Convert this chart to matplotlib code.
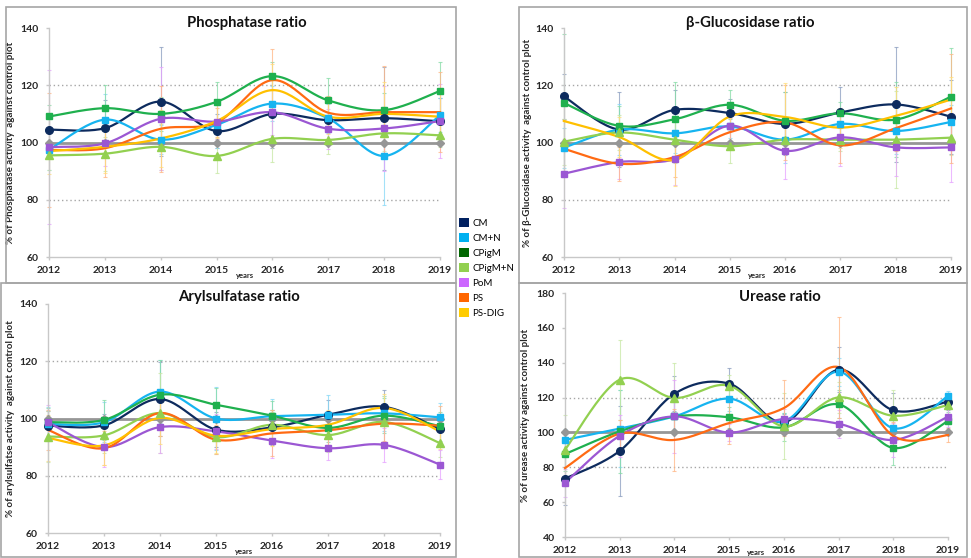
import numpy as np
import matplotlib
matplotlib.use("Agg")
import matplotlib.pyplot as plt
from matplotlib.patches import Rectangle, Patch

plt.rcParams['font.family'] = ['Lato', 'DejaVu Sans']

years = [2012, 2013, 2014, 2015, 2016, 2017, 2018, 2019]
treatments = ['CM', 'CM+N', 'CPigM', 'CPigM+N', 'PoM', 'PS', 'PS-DIG']
control = [100] * 8

# mean ratios (% of control plot)
phosphatase = {
    'CM':      [104.5, 105.0, 114.3, 104.0, 110.0, 107.8, 108.5, 107.4],
    'CM+N':    [97.5, 108.0, 101.0, 106.2, 113.6, 108.4, 95.3, 109.6],
    'CPigM':   [109.1, 112.0, 110.0, 114.2, 123.2, 114.7, 111.3, 118.0],
    'CPigM+N': [95.5, 96.1, 98.5, 95.3, 101.3, 100.9, 103.2, 102.5],
    'PoM':     [98.4, 99.7, 108.3, 107.3, 110.6, 104.8, 104.9, 107.5],
    'PS':      [97.4, 98.0, 104.8, 107.0, 121.8, 110.4, 110.6, 110.6],
    'PS-DIG':  [97.0, 98.5, 101.4, 107.5, 118.3, 109.0, 110.0, 109.0],
}
phosphatase_err = {
    'CM':      [5, 10, 19, 6, 12, 8, 18, 8],
    'CM+N':    [7, 9, 5, 8, 6, 5, 17, 6],
    'CPigM':   [4, 8, 6, 7, 5, 8, 6, 10],
    'CPigM+N': [5, 6, 8, 6, 8, 5, 6, 4],
    'PoM':     [27, 8, 18, 6, 8, 7, 15, 13],
    'PS':      [20, 10, 15, 5, 11, 6, 16, 14],
    'PS-DIG':  [8, 9, 10, 6, 9, 6, 11, 10],
}

glucosidase = {
    'CM':      [116.1, 104.5, 111.4, 110.3, 106.5, 110.5, 113.3, 109.0],
    'CM+N':    [98.2, 104.5, 103.2, 105.6, 101.0, 106.5, 104.0, 107.2],
    'CPigM':   [113.8, 105.8, 108.1, 113.2, 107.6, 110.2, 108.0, 116.0],
    'CPigM+N': [100.3, 103.5, 101.0, 98.7, 101.0, 101.0, 101.0, 101.7],
    'PoM':     [89.1, 93.2, 94.2, 105.9, 97.1, 101.8, 98.3, 98.3],
    'PS':      [97.8, 92.6, 94.9, 103.6, 107.0, 99.0, 105.0, 111.9],
    'PS-DIG':  [107.5, 101.9, 93.9, 109.1, 108.9, 105.2, 109.3, 115.0],
}
glucosidase_err = {
    'CM':      [8, 13, 7, 5, 11, 9, 20, 13],
    'CM+N':    [7, 9, 7, 4, 8, 4, 8, 6],
    'CPigM':   [24, 7, 13, 5, 10, 4, 13, 17],
    'CPigM+N': [8, 6, 8, 6, 5, 4, 17, 6],
    'PoM':     [12, 6, 9, 6, 10, 10, 10, 12],
    'PS':      [10, 6, 7, 5, 13, 6, 8, 19],
    'PS-DIG':  [8, 7, 9, 5, 12, 7, 10, 8],
}

arylsulfatase = {
    'CM':      [97.5, 97.6, 106.8, 96.1, 96.9, 101.3, 104.1, 96.3],
    'CM+N':    [98.1, 98.7, 109.4, 100.0, 100.8, 101.3, 101.8, 100.4],
    'CPigM':   [98.7, 99.5, 108.3, 104.8, 101.0, 96.7, 101.0, 97.3],
    'CPigM+N': [93.7, 94.1, 101.9, 93.5, 97.8, 94.2, 98.8, 91.4],
    'PoM':     [98.7, 90.0, 97.0, 95.5, 92.3, 89.6, 90.8, 83.9],
    'PS':      [96.0, 89.6, 101.9, 92.6, 94.8, 95.9, 98.2, 97.5],
    'PS-DIG':  [93.2, 90.6, 100.2, 94.0, 96.3, 97.8, 103.7, 95.5],
}
arylsulfatase_err = {
    'CM':      [5, 4, 13, 6, 6, 5, 6, 5],
    'CM+N':    [6, 7, 11, 11, 6, 7, 6, 5],
    'CPigM':   [5, 7, 12, 6, 5, 5, 6, 5],
    'CPigM+N': [9, 6, 14, 6, 5, 6, 9, 5],
    'PoM':     [6, 7, 9, 6, 6, 4, 6, 5],
    'PS':      [7, 6, 8, 5, 8, 6, 6, 7],
    'PS-DIG':  [8, 7, 9, 6, 6, 5, 5, 6],
}

urease = {
    'CM':      [73.5, 89.4, 122.2, 128.0, 105.8, 136.0, 112.7, 117.7],
    'CM+N':    [95.7, 102.2, 109.2, 119.4, 106.4, 134.9, 102.4, 120.9],
    'CPigM':   [87.6, 100.6, 109.2, 108.7, 102.9, 116.1, 91.1, 106.6],
    'CPigM+N': [90.1, 130.3, 119.8, 126.8, 103.5, 120.1, 109.6, 115.7],
    'PoM':     [71.2, 98.1, 109.2, 99.9, 107.7, 105.0, 95.7, 109.0],
    'PS':      [79.6, 99.3, 95.7, 105.4, 114.0, 137.5, 98.0, 98.5],
}
urease_err = {
    'CM':      [15, 26, 10, 9, 5, 13, 10, 5],
    'CM+N':    [6, 22, 8, 7, 5, 8, 10, 3],
    'CPigM':   [10, 24, 8, 6, 8, 8, 10, 5],
    'CPigM+N': [20, 23, 20, 6, 19, 9, 15, 5],
    'PoM':     [8, 12, 21, 5, 6, 8, 10, 6],
    'PS':      [10, 8, 18, 12, 16, 29, 8, 4],
}

line_colors = {'CM': '#0d2b5e', 'CM+N': '#16b4f0', 'CPigM': '#1fb04e',
               'CPigM+N': '#92d050', 'PoM': '#9b57d3', 'PS': '#ff6a13',
               'PS-DIG': '#ffc000'}
err_colors = {'CM': '#8a9cbf', 'CM+N': '#86d8f6', 'CPigM': '#86dca6',
              'CPigM+N': '#c8e8a4', 'PoM': '#e6a3ff', 'PS': '#ffb684',
              'PS-DIG': '#ffde7c'}
legend_colors = {'CM': '#002060', 'CM+N': '#00b0f0', 'CPigM': '#006600',
                 'CPigM+N': '#92d050', 'PoM': '#cc66ff', 'PS': '#ff6600',
                 'PS-DIG': '#ffcc00'}
markers = {'CM': 'o', 'CM+N': 's', 'CPigM': 's', 'CPigM+N': '^',
           'PoM': 's', 'PS': None, 'PS-DIG': None}
marker_sizes = {'o': 5.5, 's': 5, '^': 5.5}


def smooth(x, y, n=24):
    # Excel style smoothed line: cubic bezier through every point
    x = np.asarray(x, float)
    y = np.asarray(y, float)
    xs, ys = [], []
    t = np.linspace(0, 1, n)[:, None]
    last = len(x) - 1
    for i in range(last):
        a = max(i - 1, 0)
        b = min(i + 2, last)
        p0 = np.array([x[i], y[i]])
        p3 = np.array([x[i + 1], y[i + 1]])
        p1 = p0 + (p3 - np.array([x[a], y[a]])) / 6
        p2 = p3 - (np.array([x[b], y[b]]) - p0) / 6
        c = ((1 - t) ** 3) * p0 + 3 * ((1 - t) ** 2) * t * p1 + 3 * (1 - t) * t ** 2 * p2 + t ** 3 * p3
        xs.extend(c[:, 0])
        ys.extend(c[:, 1])
    return xs, ys


def draw_panel(ax, data, errs, ylabel, ylim, yticks, label_x, years_off=-15):
    for name in data:
        ax.errorbar(years, data[name], yerr=errs[name], fmt='none',
                    ecolor=err_colors[name], elinewidth=0.8, capsize=1.5,
                    capthick=0.8, alpha=0.75, zorder=2, clip_on=False)
    for g in (80, 120):
        ax.axhline(g, color='#a6a6a6', ls=(0, (1, 2)), lw=1.0, zorder=1)
    ax.plot(years, control, color='#969696', lw=2, marker='D', ms=4,
            zorder=3, clip_on=False)
    for name in data:
        sx, sy = smooth(years, data[name])
        ax.plot(sx, sy, color=line_colors[name], lw=1.6, zorder=4, clip_on=False)
        m = markers[name]
        if m:
            ax.plot(years, data[name], ls='none', marker=m, ms=marker_sizes[m],
                    color=line_colors[name], zorder=5, clip_on=False)
    ax.set_xlim(years[0], years[-1])
    ax.set_ylim(*ylim)
    ax.set_xticks(years)
    ax.set_yticks(yticks)
    for s in ('top', 'right'):
        ax.spines[s].set_visible(False)
    for s in ('left', 'bottom'):
        ax.spines[s].set_color('#c8c8c8')
        ax.spines[s].set_linewidth(1.0)
    ax.tick_params(colors='#c8c8c8', labelcolor='#262626', labelsize=7.5,
                   length=2.5, width=1.0)
    ax.tick_params(axis='x', pad=4)
    ax.tick_params(axis='y', pad=5)
    for lab in ax.get_xticklabels() + ax.get_yticklabels():
        lab.set_fontweight('bold')
    ax.set_ylabel(ylabel, fontsize=7, fontweight='bold', color='#262626')
    ax.yaxis.set_label_coords(label_x, 0.5)
    ax.annotate('years', xy=(0.5, 0), xycoords='axes fraction',
                xytext=(0, years_off), textcoords='offset points', ha='center',
                va='baseline', fontsize=5.5, fontweight='bold', color='#262626')


fig = plt.figure(figsize=(9.71, 5.58), dpi=100)

# panel frames
for x0, y0, x1, y1 in [(6, 7, 456, 283), (519, 7, 967, 283),
                       (1, 283, 456, 557), (519, 283, 967, 557)]:
    fig.patches.append(Rectangle((x0 / 971, 1 - y1 / 558), (x1 - x0) / 971,
                                 (y1 - y0) / 558, transform=fig.transFigure,
                                 fill=False, edgecolor='#a6a6a6', lw=1.2))

ax1 = fig.add_axes([0.0505, 0.5394, 0.4027, 0.4104])
ax2 = fig.add_axes([0.5808, 0.5394, 0.3986, 0.4104])
ax3 = fig.add_axes([0.0494, 0.0448, 0.4037, 0.4104])
ax4 = fig.add_axes([0.5819, 0.0376, 0.3944, 0.4373])

draw_panel(ax1, phosphatase, phosphatase_err,
           '% of Phosphatase activity  against control plot', (60, 140),
           [60, 80, 100, 120, 140], -0.087)
draw_panel(ax2, glucosidase, glucosidase_err,
           '% of β-Glucosidase activity  against control plot', (60, 140),
           [60, 80, 100, 120, 140], -0.083)
draw_panel(ax3, arylsulfatase, arylsulfatase_err,
           '% of arylsulfatse activity  against control plot', (60, 140),
           [60, 80, 100, 120, 140], -0.084)
draw_panel(ax4, urease, urease_err,
           '% of urease activity against control plot', (40, 180),
           [40, 60, 80, 100, 120, 140, 160, 180], -0.091, years_off=-13)

# panel titles (centre x, baseline y in pixels)
for text, cx, by in [('Phosphatase ratio', 247, 27),
                     ('β-Glucosidase ratio', 750, 27),
                     ('Arylsulfatase ratio', 239, 301),
                     ('Urease ratio', 780, 301)]:
    fig.text(cx / 971, 1 - by / 558, text, ha='center', va='baseline',
             fontsize=10.7, fontweight='bold', color='#111111')

handles = [Patch(facecolor=legend_colors[t], edgecolor='none', label=t)
           for t in treatments]
fig.legend(handles=handles, loc='upper left',
           bbox_to_anchor=(458 / 971, 1 - 217 / 558), frameon=False,
           fontsize=7, handlelength=1.0, handleheight=1.0,
           handletextpad=0.4, labelspacing=0.55, borderaxespad=0,
           borderpad=0.1)

fig.savefig('out.png', dpi=100)
